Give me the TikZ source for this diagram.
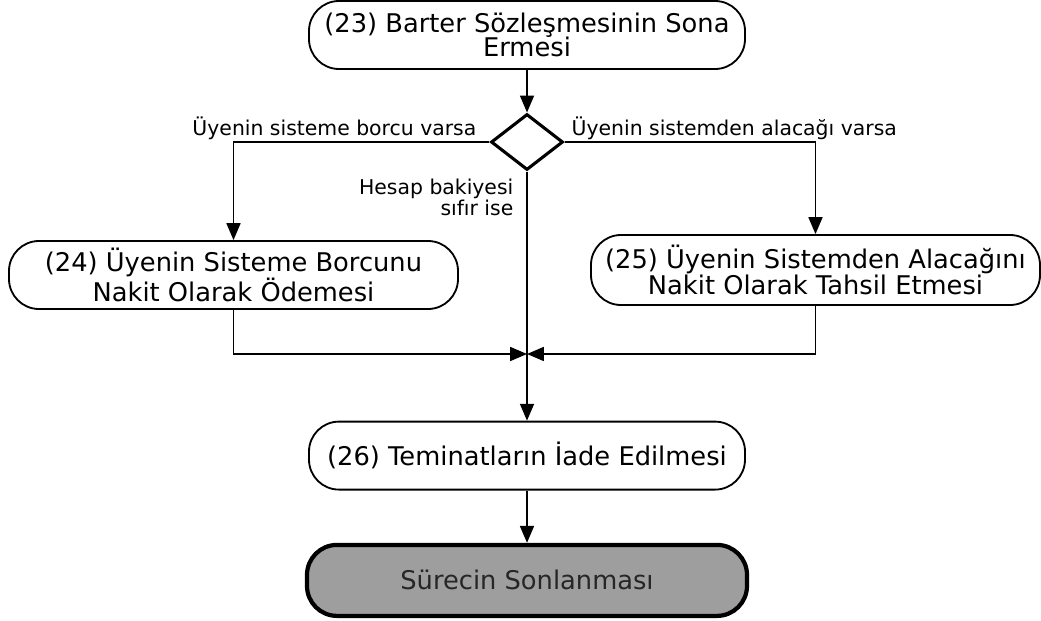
\documentclass[tikz,border=0pt]{standalone}
\usepackage{fontspec}
\setmainfont{DejaVu Sans}
\usepackage{tikz}
\usetikzlibrary{arrows.meta,positioning,calc,shapes.geometric}
\tikzstyle{activity}=[draw,line width=1.3pt,rounded corners=0.75cm,minimum width=10.9cm,minimum height=1.7cm,align=center,font=\fontsize{18.3}{17.5}\selectfont,inner sep=2pt]
\tikzstyle{decision}=[draw,diamond,line width=2.2pt,minimum width=1.8cm,minimum height=1.4cm,inner sep=0pt]
\tikzstyle{finish}=[draw,line width=3pt,rounded corners=0.75cm,fill=black!38,text=black!85,minimum width=11cm,minimum height=1.775cm,font=\fontsize{18.3}{17.5}\selectfont]
\tikzstyle{cond}=[inner sep=1pt,font=\fontsize{14.5}{11.5}\selectfont,align=right]
\tikzstyle{flow}=[line width=1pt,-{Triangle[length=12pt,width=10pt]}]
\tikzstyle{wire}=[line width=1pt]

\begin{document}
\begin{tikzpicture}
    \useasboundingbox (0,0) rectangle (26.025,-15.525);
    \node [activity] (n23) at (13.175,-0.875) {(23) Barter Sözleşmesinin Sona\\Ermesi};
    \node [decision] (dec) at (13.175,-3.55) {};
    \node [activity,minimum width=11.225cm] (n24) at (5.8375,-6.875) {(24) Üyenin Sisteme Borcunu\\Nakit Olarak Ödemesi};
    \node [activity,minimum width=11.225cm,minimum height=1.75cm] (n25) at (20.3875,-6.75) {(25) Üyenin Sistemden Alacağını\\Nakit Olarak Tahsil Etmesi};
    \coordinate (join) at (13.175,-8.85);
    \node [activity] (n26) at (13.175,-11.39) {(26) Teminatların İade Edilmesi};
    \node [finish] (son) at (13.175,-14.51) {Sürecin Sonlanması};
    \node [cond,anchor=east] (borc) at (11.95,-3.2) {Üyenin sisteme borcu varsa};
    \node [cond,anchor=west] (alacak) at (14.25,-3.2) {Üyenin sistemden alacağı varsa};
    \node [cond,anchor=east] (sifir) at (12.875,-4.925) {Hesap bakiyesi\\sıfır ise};

    \draw [flow] (n23) -- (dec);
    \draw [flow] (dec.west) -| (n24.north);
    \draw [flow] (dec.east) -| (n25.north);
    \draw [wire] (dec.south) -- (join);
    \draw [flow] (n24.south) |- (join);
    \draw [flow] (n25.south) |- (join);
    \draw [flow] (join) -- (n26.north);
    \draw [flow] (n26) -- (son);
\end{tikzpicture}
\end{document}
